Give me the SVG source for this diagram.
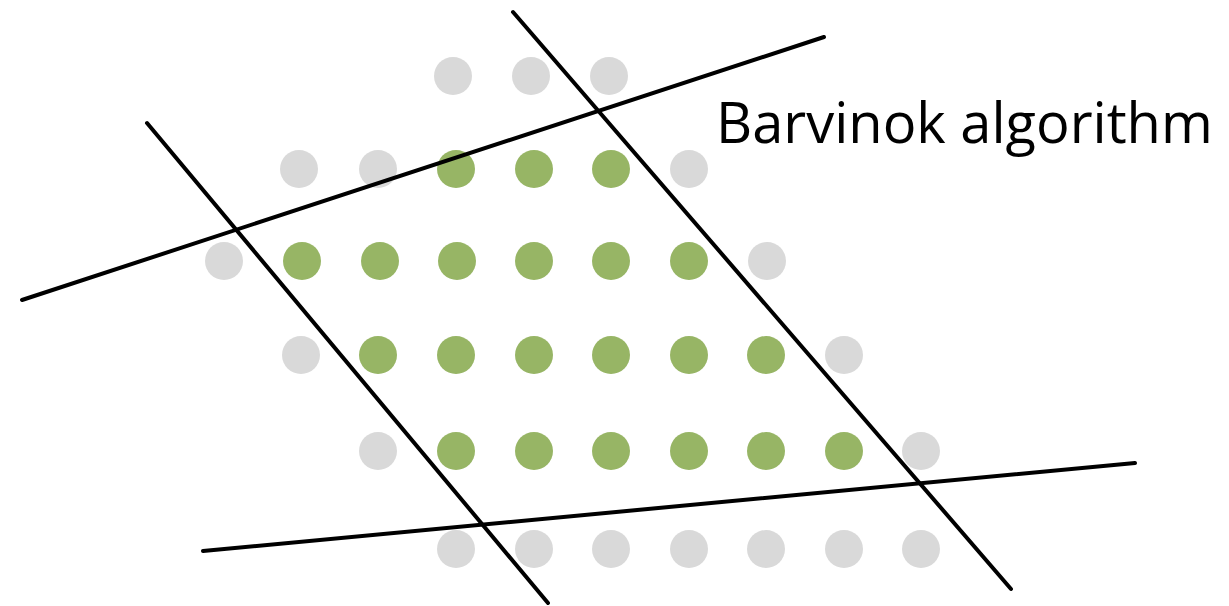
<svg xmlns="http://www.w3.org/2000/svg" width="1229" height="606" viewBox="0 0 1229 606">
<style>
.g{fill:#d9d9d9}
.p{fill:#97b565}
.l{stroke:#000;stroke-width:4;stroke-linecap:round;fill:none}
.t{font-family:"Open Sans","Liberation Sans",sans-serif;font-size:56px;fill:#000}
</style>
<rect width="1229" height="606" fill="#fff"/>
<g id="points">
<circle class="g" cx="453" cy="76" r="19"/><circle class="g" cx="531" cy="76" r="19"/><circle class="g" cx="609" cy="76" r="19"/>
<circle class="g" cx="299" cy="169" r="19"/><circle class="g" cx="378" cy="169" r="19"/><circle class="p" cx="456" cy="169" r="19"/><circle class="p" cx="534" cy="169" r="19"/><circle class="p" cx="611" cy="169" r="19"/><circle class="g" cx="689" cy="169" r="19"/>
<circle class="g" cx="224" cy="261" r="19"/><circle class="p" cx="302" cy="261" r="19"/><circle class="p" cx="380" cy="261" r="19"/><circle class="p" cx="457" cy="261" r="19"/><circle class="p" cx="534" cy="261" r="19"/><circle class="p" cx="611" cy="261" r="19"/><circle class="p" cx="689" cy="261" r="19"/><circle class="g" cx="767" cy="261" r="19"/>
<circle class="g" cx="301" cy="355" r="19"/><circle class="p" cx="378" cy="355" r="19"/><circle class="p" cx="456" cy="355" r="19"/><circle class="p" cx="534" cy="355" r="19"/><circle class="p" cx="611" cy="355" r="19"/><circle class="p" cx="689" cy="355" r="19"/><circle class="p" cx="766" cy="355" r="19"/><circle class="g" cx="844" cy="355" r="19"/>
<circle class="g" cx="378" cy="451" r="19"/><circle class="p" cx="456" cy="451" r="19"/><circle class="p" cx="534" cy="451" r="19"/><circle class="p" cx="611" cy="451" r="19"/><circle class="p" cx="689" cy="451" r="19"/><circle class="p" cx="766" cy="451" r="19"/><circle class="p" cx="844" cy="451" r="19"/><circle class="g" cx="921" cy="451" r="19"/>
<circle class="g" cx="456" cy="549" r="19"/><circle class="g" cx="534" cy="549" r="19"/><circle class="g" cx="611" cy="549" r="19"/><circle class="g" cx="689" cy="549" r="19"/><circle class="g" cx="766" cy="549" r="19"/><circle class="g" cx="844" cy="549" r="19"/><circle class="g" cx="921" cy="549" r="19"/>
</g>
<g id="lines">
<line class="l" x1="22" y1="300" x2="824" y2="37"/>
<line class="l" x1="147" y1="123" x2="548" y2="603"/>
<line class="l" x1="513" y1="12" x2="1011" y2="589"/>
<line class="l" x1="203" y1="551" x2="1135" y2="463"/>
</g>
<g id="label">
<text class="t" x="716" y="143">Barvinok algorithm</text>
</g>
</svg>
